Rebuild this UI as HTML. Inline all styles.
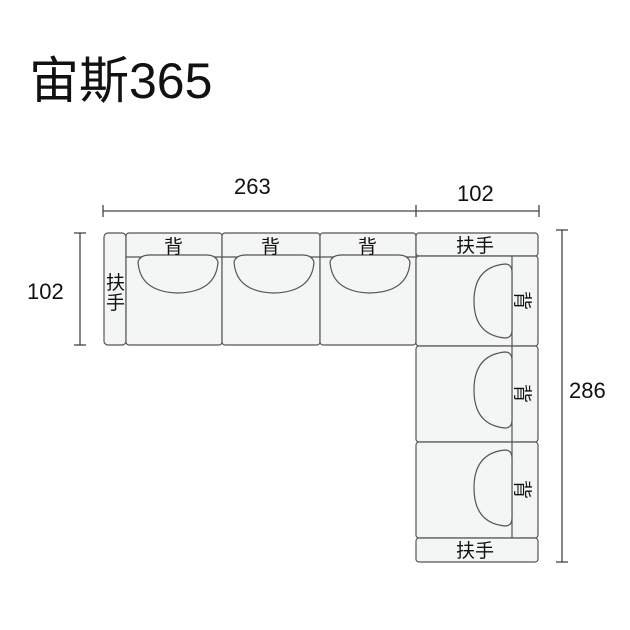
<!DOCTYPE html>
<html><head><meta charset="utf-8"><style>
html,body{margin:0;padding:0;background:#fff;width:630px;height:630px;overflow:hidden}
svg{display:block}
text{font-family:"Liberation Sans","Noto Sans CJK SC",sans-serif;fill:#111}
</style></head><body>
<svg width="630" height="630" viewBox="0 0 630 630">
<text x="29" y="98" font-size="50">宙斯365</text>
<g stroke="#444" stroke-width="1.3" fill="none">
<line x1="103" y1="211" x2="539" y2="211"/>
<line x1="103" y1="205" x2="103" y2="217"/>
<line x1="416" y1="205" x2="416" y2="217"/>
<line x1="539" y1="205" x2="539" y2="217"/>
<line x1="80" y1="233" x2="80" y2="345"/>
<line x1="74" y1="233" x2="86" y2="233"/>
<line x1="74" y1="345" x2="86" y2="345"/>
<line x1="562" y1="230" x2="562" y2="562"/>
<line x1="556" y1="230" x2="568" y2="230"/>
<line x1="556" y1="562" x2="568" y2="562"/>
</g>
<text x="234" y="194" font-size="22">263</text>
<text x="457" y="201" font-size="22">102</text>
<text x="27" y="299" font-size="22">102</text>
<text x="569" y="398" font-size="22">286</text>
<g stroke="#555" stroke-width="1.2" fill="#f4f5f5">
<rect x="104" y="233" width="22" height="112" rx="4"/>
<rect x="126" y="233" width="96" height="112" rx="3"/>
<rect x="222" y="233" width="98" height="112" rx="3"/>
<rect x="320" y="233" width="96" height="112" rx="3"/>
<line x1="126" y1="257" x2="416" y2="257"/>
<path d="M138 262 Q140 255 150 255 L206 255 Q216 255 218 262 Q216 292 178 293 Q140 292 138 262Z"/>
<path d="M234 262 Q236 255 246 255 L302 255 Q312 255 314 262 Q312 292 274 293 Q236 292 234 262Z"/>
<path d="M330 262 Q332 255 342 255 L398 255 Q408 255 410 262 Q408 292 370 293 Q332 292 330 262Z"/>
<rect x="416" y="233" width="122" height="23" rx="3"/>
<rect x="416" y="256" width="122" height="90" rx="3"/>
<rect x="416" y="346" width="122" height="96" rx="3"/>
<rect x="416" y="442" width="122" height="96" rx="3"/>
<rect x="416" y="538" width="122" height="24" rx="3"/>
<line x1="512" y1="256" x2="512" y2="538"/>
<path d="M505 264 Q512 264 512 272 L512 330 Q512 338 505 338 Q474 335 474 301 Q474 267 505 264Z"/>
<path d="M505 352 Q512 352 512 360 L512 420 Q512 428 505 428 Q474 425 474 390 Q474 355 505 352Z"/>
<path d="M505 450 Q512 450 512 458 L512 518 Q512 526 505 526 Q474 523 474 488 Q474 453 505 450Z"/>
</g>
<g font-size="19">
<text x="164" y="253">背</text>
<text x="261" y="253">背</text>
<text x="358" y="253">背</text>
<text x="456" y="252">扶手</text>
<text x="456" y="557">扶手</text>
<text x="106" y="289">扶</text>
<text x="106" y="309">手</text>
<text transform="translate(516,291) rotate(90)">背</text>
<text transform="translate(516,384) rotate(90)">背</text>
<text transform="translate(516,480) rotate(90)">背</text>
</g>
</svg>
</body></html>
